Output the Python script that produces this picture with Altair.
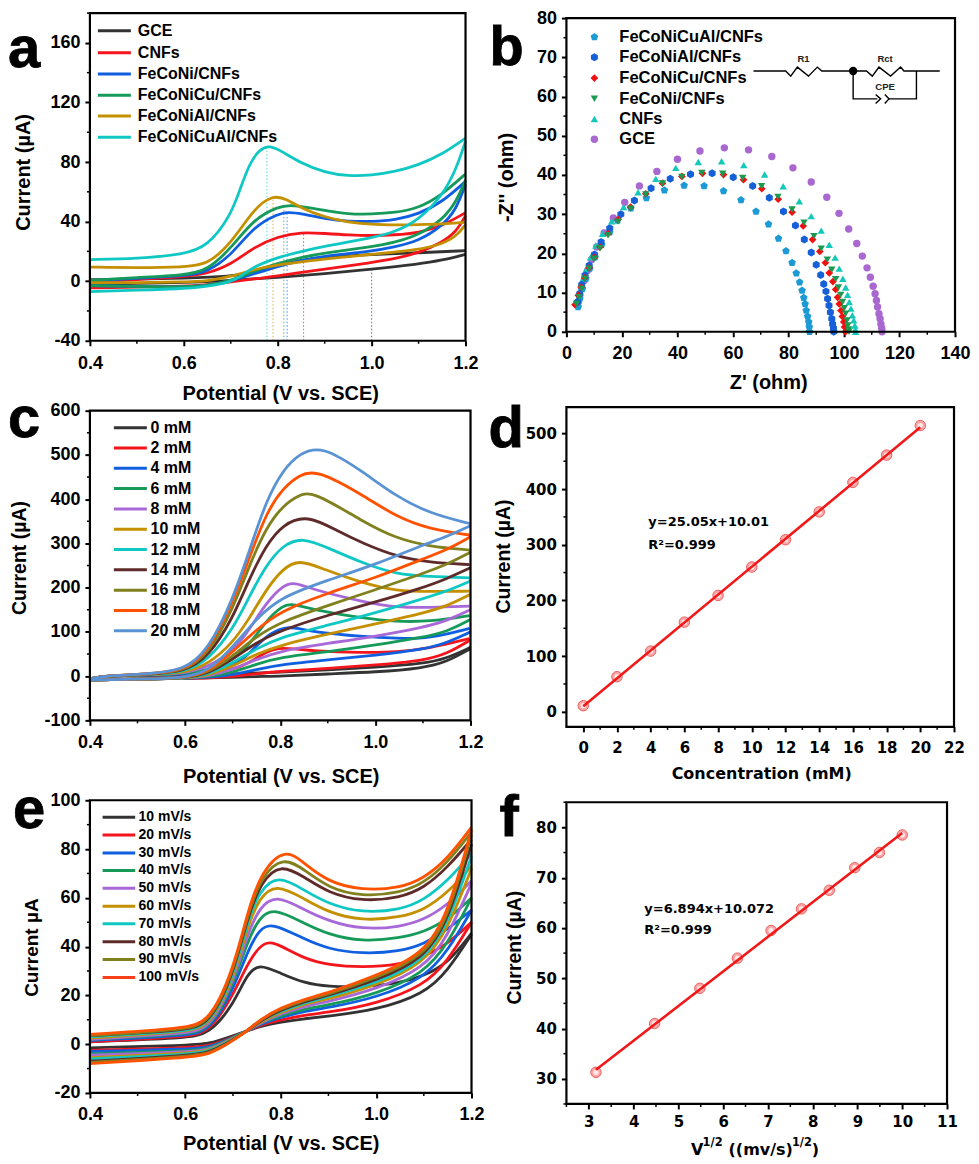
import altair as alt
import pandas as pd

SANS = "Liberation Sans"
WIDE = "DejaVu Sans"
BLACK = "#333333"; RED = "#f4151c"; BLUE = "#0f5fe0"; GREEN = "#159a5a"; PURPLE = "#a968d8"
GOLD = "#c49000"; CYAN = "#0fc8c4"; MAROON = "#5e2a2a"; OLIVE = "#80801e"; ORANGE = "#ff5200"; STEEL = "#5a93d4"

# ---------- panel a ----------
a_names = ["GCE", "CNFs", "FeCoNi/CNFs", "FeCoNiCu/CNFs", "FeCoNiAl/CNFs", "FeCoNiCuAl/CNFs"]
a_colors = [BLACK, RED, BLUE, GREEN, GOLD, CYAN]
a_upper = {
 "GCE": ([.4,.5,.6,.7,.75,.8,.85,.9,1.0,1.1,1.2], [1,1.5,2,3,6,11,14,16,18,19,20.5]),
 "CNFs": ([.4,.5,.6,.65,.7,.75,.8,.85,.9,.95,1.0,1.05,1.1,1.15,1.2], [-.5,1,3,5,11,23,30,33,32,31,30.5,31,32.5,37,46]),
 "FeCoNi/CNFs": ([.4,.5,.6,.65,.7,.75,.8,.82,.85,.9,.95,1.0,1.05,1.1,1.15,1.2], [0,2,3.5,6,17,37,45,46.5,45.5,42,40,40,41,45,53,67]),
 "FeCoNiCu/CNFs": ([.4,.5,.6,.65,.7,.75,.8,.83,.9,.95,1.0,1.05,1.1,1.15,1.2], [.5,2.5,4,7,22,42,50,51.5,47.5,45,45,46,49,58,72]),
 "FeCoNiAl/CNFs": ([.4,.5,.6,.65,.7,.75,.79,.82,.85,.9,.95,1.0,1.1,1.2], [9.5,9,9.5,11,25,49,58,55,49,43,39.5,38,37.5,39.5]),
 "FeCoNiCuAl/CNFs": ([.4,.5,.6,.65,.7,.72,.74,.76,.78,.8,.85,.9,.95,1.0,1.05,1.1,1.15,1.2], [14.5,15,18,23,44,62,79,88,91,89,79,73,70.5,71,73.5,78,85,96]),
}
a_lower = {
 "GCE": ([.4,.5,.6,.7,.8,.9,1.0,1.1,1.15,1.2], [-2,-1.5,-1,.5,2.5,5,8,11.5,14,18]),
 "CNFs": ([.4,.5,.6,.65,.7,.75,.8,.85,.9,1.0,1.05,1.1,1.15,1.18,1.2], [-4.5,-4,-3.5,-2.5,-.5,1.5,3.5,6,8,12.5,15,19,26,33,44]),
 "FeCoNi/CNFs": ([.4,.5,.6,.65,.7,.75,.8,.85,.9,1.0,1.05,1.1,1.15,1.18,1.2], [-3,-3.5,-4,-3,0,5,10,14,17,20,23,27,37,48,65]),
 "FeCoNiCu/CNFs": ([.4,.5,.6,.65,.7,.75,.8,.85,.9,1.0,1.05,1.1,1.15,1.18,1.2], [-3,-3.5,-4,-3,0,7,12,16,19,23,26,31,41,53,68]),
 "FeCoNiAl/CNFs": ([.4,.5,.6,.65,.7,.75,.8,.85,.9,1.0,1.1,1.15,1.18,1.2], [-1,-1,-.5,0,3,8,11,13,15,18,21,25,30,38]),
 "FeCoNiCuAl/CNFs": ([.4,.5,.6,.65,.7,.72,.75,.8,.85,.9,1.0,1.05,1.1,1.15,1.18,1.2], [-7,-6,-5,-3.5,-.5,3,10,16,20,23.5,29,33,41,57,75,94]),
}
a_drop_x = [.777, .79, .813, .82, .855, 1.0]
a_drop_top = [88, 55, 50, 45, 32, 8]
a_drop_color = [CYAN, GOLD, GREEN, BLUE, RED, BLACK]

# ---------- panel b ----------
b_names = ["FeCoNiCuAl/CNFs", "FeCoNiAl/CNFs", "FeCoNiCu/CNFs", "FeCoNi/CNFs", "CNFs", "GCE"]
b_colors = ["#1b9ad6", "#1560d8", "#f01010", "#1a9a50", "#12c8b8", "#a868d0"]
PENTAGON = "M0,-1L0.95,-0.31L0.59,0.81L-0.59,0.81L-0.95,-0.31Z"
HEXAGON = "M0,-1L0.87,-0.5L0.87,0.5L0,1L-0.87,0.5L-0.87,-0.5Z"
b_shapes = [PENTAGON, HEXAGON, "diamond", "triangle-down", "triangle-up", "circle"]
b_sizes = [64, 64, 60, 55, 55, 55]
b_x = {
 "GCE": [4.3,4.8,5.5,6.4,7.6,9.1,10.9,13.6,16.9,21.0,26.3,32.6,40.0,48.1,56.9,65.6,74.0,81.6,88.2,93.8,98.2,101.7,104.6,106.6,108.3,109.5,110.5,111.2,111.7,112.1,112.6,113.0,113.3,113.6,113.7],
 "CNFs": [4.3,4.6,5.2,6,7.2,8.7,10.6,13,16.3,20.6,25.8,32.2,39.4,47.5,55.9,63.9,71.4,78.1,83.9,88.2,91.8,94.7,96.8,98.3,99.6,100.6,101.3,101.9,102.5,103,103.5,103.9,104.1,104.2],
 "FeCoNi/CNFs": [3.6,4.6,5.5,6.7,8.2,10,12.1,15,18.6,23.2,28.6,34.6,41.6,48.8,56.3,63.5,70.3,76.2,81.3,85.6,89.2,91.8,94,95.6,97,98,98.8,99.5,100.1,100.6,101.1,101.4,101.7,101.8],
 "FeCoNiCu/CNFs": [3.1,4.3,5.3,6.6,8.2,10,12.1,15,18.6,23.1,28.6,34.6,41.6,49,56.6,63.8,70.4,76.3,81.3,85.3,88.7,91.3,93.3,94.7,96,97,97.7,98.3,98.9,99.4,99.9,100.2,100.5],
 "FeCoNiAl/CNFs": [4,4.8,5.5,6.7,8.2,10.1,12.5,15.6,19.6,24.5,30.5,37.4,44.7,52.5,60.1,67.1,73.1,78.2,82.5,85.7,88.2,90,91.6,92.7,93.5,94.1,94.6,95.1,95.6,95.9,96.2,96.3],
 "FeCoNiCuAl/CNFs": [4.2,4.8,5.8,7,8.4,10.3,12.7,15.6,18.4,23.2,28.8,35.3,42.4,49.6,56.6,62.9,68.3,72.8,76.4,79.1,81.3,82.8,84,84.9,85.5,86,86.4,86.9,87.3,87.5,87.6],
}
b_y = {
 "GCE": [7.6,9.3,11.1,13.1,15.6,18.4,21.6,25.2,29.0,33.0,37.2,40.9,44.0,46.1,46.9,46.4,44.7,41.8,38.2,34.3,30.2,26.2,22.5,19.3,16.3,13.9,11.6,9.7,8.0,6.3,4.6,3.3,2.0,.9,0],
 "CNFs": [7.1,8.8,11,13.5,16,19,22,25,28.2,31.8,35.6,39.0,41.8,43.3,43.5,42.5,40.1,37.1,33.3,29.5,25.8,22.2,18.9,16.1,13.5,11.3,9.4,7.6,5.9,4.2,2.9,1.6,.6,0],
 "FeCoNi/CNFs": [7.1,8.8,11,13.5,16.1,18.6,21.3,24.6,28.1,31.4,35,37.8,39.5,40.5,40.3,39.2,37.1,34.4,31.2,27.8,24.4,21.2,18.4,15.8,13.4,11.3,9.4,7.6,6,4.6,2.9,1.6,.6,0],
 "FeCoNiCu/CNFs": [6.9,9.3,11.4,13.8,16.3,19,21.6,25,28.6,31.8,35.2,37.9,39.6,40.4,40.1,38.8,36.5,33.8,30.5,27,23.5,20.5,17.6,15,12.8,10.8,8.8,7.1,5.4,3.9,2.5,1.2,0],
 "FeCoNiAl/CNFs": [7.6,9.7,12,14.4,16.9,19.7,22.9,26.4,30,33.5,36.6,39,40.2,40.4,39.4,37.2,34.2,30.7,27.1,23.5,20.2,17.1,14.5,12.2,10.3,8.4,6.7,5,3.3,2,.9,0],
 "FeCoNiCuAl/CNFs": [6.3,8.4,11,13.5,16.1,19,22.2,25.4,28.4,31.5,34.1,36.1,37.3,37.2,35.9,33.6,30.7,27.4,23.8,20.6,17.6,14.9,12.6,10.5,8.7,7.1,5.4,3.9,2.5,1.2,0],
}
b_draw_order = ["GCE", "CNFs", "FeCoNiCuAl/CNFs", "FeCoNiAl/CNFs", "FeCoNiCu/CNFs", "FeCoNi/CNFs"]
circuit_paths = [
 ([67.4,79.0,80.8,83.2,87.2,90.4,92.0,108.1,110.2,112.6,116.8,120.4,121.6,134.5],
  [66.5,66.5,65.2,67.5,65.2,67.5,66.5,66.5,65.2,67.5,65.2,67.5,66.5,66.5]),
 ([103.3,103.3,112.0], [66.5,59.4,59.4]),
 ([111.4,113.2,111.4], [60.5,59.4,58.2]),
 ([114.7,116.2,114.7], [60.5,59.4,58.2]),
 ([116.2,126.1,126.1], [59.4,59.4,66.5]),
]
circuit_labels = ["R1", "Rct", "CPE"]
circuit_label_x = [85.4, 114.8, 114.8]
circuit_label_y = [69.5, 69.5, 62.4]

# ---------- panel c ----------
c_names = ["0 mM","2 mM","4 mM","6 mM","8 mM","10 mM","12 mM","14 mM","16 mM","18 mM","20 mM"]
c_colors = [BLACK, RED, BLUE, GREEN, PURPLE, GOLD, CYAN, MAROON, OLIVE, ORANGE, STEEL]
c_lower_x = [.4,.5,.6,.65,.7,.75,.8,.9,1.0,1.1,1.15,1.2]
c_lower = {
 "0 mM": [-8,-7,-5,-4,-3,-1,0,5,9,18,32,62],
 "2 mM": [-9,-7,-5,-4,-1,5,11,17,25,35,50,82],
 "4 mM": [-9,-7,-5,-3,3,15,26,37,47,60,75,100],
 "6 mM": [-9,-7,-5,-2,8,27,43,55,70,88,100,128],
 "8 mM": [-9,-7,-5,0,15,38,57,74,90,110,125,150],
 "10 mM": [-9,-7,-5,2,22,50,70,95,118,142,158,185],
 "12 mM": [-9,-7,-5,4,30,62,88,115,143,175,192,215],
 "14 mM": [-9,-7,-5,6,38,76,103,138,167,200,220,245],
 "16 mM": [-9,-7,-5,8,45,90,122,160,195,232,252,280],
 "18 mM": [-9,-7,-5,10,55,105,147,188,222,265,285,315],
 "20 mM": [-9,-7,-5,12,65,130,178,217,252,297,315,340],
}
c_upper_x = {
 "0 mM": [.4,.43,.5,.6,.7,.8,.9,1.0,1.1,1.15,1.2],
 "2 mM": [.4,.43,.5,.6,.65,.7,.735,.77,.795,.83,.868,.974,1.044,1.114,1.198],
 "4 mM": [.4,.43,.5,.6,.65,.7,.735,.77,.81,.84,.868,.974,1.044,1.114,1.198],
 "6 mM": [.4,.43,.5,.6,.65,.7,.735,.77,.805,.825,.868,.974,1.044,1.114,1.198],
 "8 mM": [.4,.43,.5,.6,.65,.7,.735,.77,.805,.83,.87,.974,1.044,1.114,1.198],
 "10 mM": [.4,.43,.5,.6,.65,.7,.735,.77,.805,.84,.89,.974,1.044,1.114,1.198],
 "12 mM": [.4,.43,.5,.6,.65,.7,.735,.77,.805,.847,.9,.974,1.044,1.114,1.198],
 "14 mM": [.4,.43,.5,.6,.65,.7,.735,.77,.805,.857,.92,.974,1.044,1.114,1.198],
 "16 mM": [.4,.43,.5,.6,.65,.7,.735,.77,.805,.84,.869,.974,1.044,1.114,1.198],
 "18 mM": [.4,.43,.5,.6,.65,.7,.736,.771,.806,.84,.877,.974,1.044,1.114,1.198],
 "20 mM": [.4,.43,.5,.6,.65,.7,.736,.771,.806,.84,.887,.974,1.044,1.114,1.198],
}
c_upper_y = {
 "0 mM": [-6,0,1,2,5,9,14,20,28,40,65],
 "2 mM": [-6,0,2,4,8,14,30,55,64,62,57,53,54,63,85],
 "4 mM": [-6,0,2,4,10,22,50,92,112,108,100,89,85,85,108],
 "6 mM": [-6,0,2,5,15,35,70,125,160,164,150,131,123,123,137],
 "8 mM": [-6,0,3,5,22,55,105,165,205,213,195,168,155,155,158],
 "10 mM": [-6,0,3,6,28,75,130,195,243,264,242,210,192,191,192],
 "12 mM": [-6,0,3,7,38,105,180,250,296,314,290,255,230,225,222],
 "14 mM": [-6,0,3,8,45,130,220,295,343,365,328,300,270,257,252],
 "16 mM": [-6,0,4,9,52,150,250,335,385,410,418,349,311,293,285],
 "18 mM": [-6,0,4,10,58,165,270,370,425,455,467,409,360,332,319],
 "20 mM": [-6,0,4,11,62,172,286,398,466,503,522,462,406,368,345],
}

# ---------- panel d ----------
d_x = [0,2,4,6,8,10,12,14,16,18,20]
d_y = [11,63,109,161,209,260,309,359,412,461,514]
d_fit_x = [0,20]
d_fit_y = [10.01,511.0]

# ---------- panel e ----------
e_names = ["10 mV/s","20 mV/s","30 mV/s","40 mV/s","50 mV/s","60 mV/s","70 mV/s","80 mV/s","90 mV/s","100 mV/s"]
e_colors = [BLACK, RED, BLUE, GREEN, PURPLE, GOLD, CYAN, MAROON, OLIVE, ORANGE]
e_legend_colors = [BLACK, RED, BLUE, GREEN, PURPLE, GOLD, CYAN, MAROON, OLIVE, "#f8401a"]
e_lower_x = [.4,.6,.65,.7,.73,.76,.8,.85,.9,1.0,1.1,1.15,1.2]
e_lower = {
 "10 mV/s": [-1.5,-.5,0,3.5,5.5,7.5,9,10.5,11.5,14,20.5,30,45],
 "20 mV/s": [-2.5,-1.5,-1,3,5.5,8,10,12,13,16.5,24,34,50],
 "30 mV/s": [-3,-2,-1.5,2.8,5.5,8.5,11,13.5,15,19,27,38,55],
 "40 mV/s": [-4,-2.8,-2,2.6,5.5,9,11.5,14.5,16,20.5,29,41,60],
 "50 mV/s": [-4.5,-3.2,-2.5,2.4,5.5,9,12.5,15.5,17.5,22.5,31,44,66],
 "60 mV/s": [-5.5,-3.7,-3,2.2,5.5,9.5,13,16.5,18.5,24,33,47,72],
 "70 mV/s": [-6,-4.2,-3.3,2,5.5,10,13.5,17,19.5,25,34,49,77],
 "80 mV/s": [-7,-4.7,-3.7,1.8,5.5,10,14,17.5,20,26,35,50,82],
 "90 mV/s": [-7.5,-5,-4.2,1.7,5.5,10.5,14.5,18,20.5,27,36,51,86],
 "100 mV/s": [-8,-5.5,-4.5,1.5,5.5,10.5,15,18.5,21,28,37,53,88],
}
e_upper_x = {
 "10 mV/s": [.4,.6,.65,.7,.73,.755,.8,.85,.9,.97,1.05,1.1,1.15,1.2],
 "20 mV/s": [.4,.6,.65,.7,.73,.765,.8,.85,.9,.97,1.05,1.1,1.15,1.2],
 "30 mV/s": [.4,.6,.65,.7,.73,.755,.78,.85,.9,.97,1.05,1.1,1.15,1.2],
 "40 mV/s": [.4,.6,.65,.7,.73,.755,.785,.85,.9,.97,1.05,1.1,1.15,1.2],
 "50 mV/s": [.4,.6,.65,.7,.73,.755,.79,.85,.9,.97,1.05,1.1,1.15,1.2],
 "60 mV/s": [.4,.6,.65,.7,.73,.755,.79,.85,.9,.97,1.05,1.1,1.15,1.2],
 "70 mV/s": [.4,.6,.65,.7,.73,.755,.795,.85,.9,.97,1.05,1.1,1.15,1.2],
 "80 mV/s": [.4,.6,.65,.7,.73,.76,.8,.85,.9,.97,1.05,1.1,1.15,1.2],
 "90 mV/s": [.4,.6,.65,.7,.73,.76,.805,.85,.9,.97,1.05,1.1,1.15,1.2],
 "100 mV/s": [.4,.6,.65,.7,.73,.76,.81,.85,.9,.97,1.05,1.1,1.15,1.2],
}
e_upper_y = {
 "10 mV/s": [1,2.5,4,16,29,33,29,25,23.6,23.5,25,28,33,45.5],
 "20 mV/s": [1,3,4.5,20,33,43,40.5,35,32.5,31.5,32.5,36,41,50],
 "30 mV/s": [1.5,3.5,5,22,38,47,50,43,39,37,38,41,47,55],
 "40 mV/s": [2,4,5.5,24,42,52,56,49.5,45,42,43.5,46,51,60],
 "50 mV/s": [2,4.5,6,25,45,56,61.5,55,50.5,47,48,51,57,67],
 "60 mV/s": [2.5,5,7,26,48,60,66,59.5,54,50.5,52,55,62,73],
 "70 mV/s": [3,5.2,7.5,27,50,63,69.5,63,57.5,53.8,55,59,67,78],
 "80 mV/s": [3.5,5.7,8,28,52,67,74,68.5,62,58.5,60,64,72.5,84],
 "90 mV/s": [3.5,6,8.5,29,53,69,77,71.5,64,60.5,62,66,74.5,87],
 "100 mV/s": [4,6.5,9,30,54,71,80.5,74,66.5,63,64,68,76,89],
}

# ---------- panel f ----------
f_x = [3.16,4.47,5.48,6.32,7.07,7.75,8.37,8.94,9.49,10]
f_y = [31.3,41,48,54,59.5,63.8,67.5,72,75,78.5]
f_fit_x = [3.16,10]
f_fit_y = [31.8,78.9]

ONE = pd.DataFrame({"a": [1]})


class Panel:
    def __init__(self, w, h, xdom, ydom, xticks, yticks, xminor, yminor, xtitle, ytitle,
                 xfmt, title_xy, ytitle_xy, xpad, label_font=SANS, label_size=18,
                 xt_font=SANS, xt_size=20, yt_font=SANS, yt_size=20, inset=0):
        self.w, self.h, self.inset = w, h, inset
        self.xs = alt.Scale(domain=xdom, nice=False, zero=False)
        self.ys = alt.Scale(domain=ydom, nice=False, zero=False, range=[h + inset, inset])
        common = dict(domain=False, grid=False, ticks=True, tickSize=5, tickWidth=2, tickColor="black",
                      labelColor="black", labelFont=label_font, labelFontSize=label_size,
                      labelFontWeight="bold", labelFlush=False, labelOverlap=False,
                      titleColor="black", titleBaseline="middle", titleAlign="center")
        self.xaxis = alt.Axis(values=xticks, format=xfmt, labelPadding=xpad, labelAngle=0,
                              title=xtitle if xtitle else " ",
                              titleFont=xt_font, titleFontSize=xt_size, titleFontWeight="bold",
                              titleX=title_xy[0], titleY=title_xy[1], **common)
        self.yaxis = alt.Axis(values=yticks, labelExpr="'' + datum.value", labelPadding=5,
                              title=ytitle, titleFont=yt_font, titleFontSize=yt_size, titleFontWeight="bold",
                              titleX=ytitle_xy[0], titleY=ytitle_xy[1] + inset, titleAngle=270, **common)
        self.layers = []
        self.layers.append(
            alt.Chart(pd.DataFrame({"x": xminor})).mark_rule(color="black", strokeWidth=1.5).encode(
                x=self.X(), y=alt.value(h + inset), y2=alt.value(h + inset + 3)))
        self.layers.append(
            alt.Chart(pd.DataFrame({"y": yminor})).mark_rule(color="black", strokeWidth=1.5).encode(
                y=self.Y(), x=alt.value(-3), x2=alt.value(0)))

    def X(self, f="x"):
        return alt.X(f + ":Q", scale=self.xs, axis=self.xaxis)

    def Y(self, f="y"):
        return alt.Y(f + ":Q", scale=self.ys, axis=self.yaxis)

    def add(self, layer):
        self.layers.append(layer)

    def curves(self, names, colors, branches, sw=2.8):
        rows = []
        for name, col in zip(names, colors):
            for b, (xs, ys) in enumerate(branches(name)):
                for x, y in zip(xs, ys):
                    rows.append({"c": col, "s": name, "b": b, "x": x, "y": y})
        self.add(alt.Chart(pd.DataFrame(rows)).mark_line(interpolate="basis", strokeWidth=sw).encode(
            x=self.X(), y=self.Y(),
            color=alt.Color("c:N", scale=None),
            detail=["s:N", "b:N"]))

    def text(self, s, x, y, size, font=SANS, weight="bold", color="black", align="left", baseline="middle", **kw):
        self.add(alt.Chart(ONE).mark_text(text=s, font=font, fontSize=size, fontWeight=weight, color=color,
                                          align=align, baseline=baseline, **kw).encode(
            x=alt.value(x), y=alt.value(y + self.inset)))

    def legend_line(self, names, colors, x0, x1, tx, ys, size):
        for n, c, y in zip(names, colors, ys):
            self.add(alt.Chart(ONE).mark_rule(color=c, strokeWidth=3).encode(
                x=alt.value(x0), x2=alt.value(x1), y=alt.value(y + self.inset)))
            self.text(n, tx, y, size)

    def letter(self, s, x, y, size=58):
        self.text(s, x, y, size, baseline="alphabetic", stroke="black", strokeWidth=0.8)

    def scatter_fit(self, xs, ys, fx, fy):
        df = pd.DataFrame({"x": xs, "y": ys})
        self.add(alt.Chart(df).mark_point(shape="circle", filled=True, size=110, color="#ff9c9c",
                                          stroke="#e85050", strokeWidth=1, opacity=0.9).encode(
            x=self.X(), y=self.Y()))
        self.add(alt.Chart(df).mark_point(shape="circle", filled=True, size=28, color="#ffffff", opacity=0.75).encode(
            x=self.X(), y=self.Y()))
        self.add(alt.Chart(pd.DataFrame({"x": fx, "y": fy})).mark_line(color="#f01818", strokeWidth=2.6).encode(
            x=self.X(), y=self.Y()))

    def chart(self):
        frame = alt.Chart(ONE).mark_rect(fill="transparent", stroke="black", strokeWidth=2.2).encode(
            x=alt.value(0), x2=alt.value(self.w), y=alt.value(self.inset), y2=alt.value(self.h + self.inset))
        return alt.layer(*self.layers, frame).properties(width=self.w, height=self.h + self.inset)


# ===== a =====
pa = Panel(376, 328, [.4, 1.2], [-40, 180], [.4, .6, .8, 1.0, 1.2], [-40, 0, 40, 80, 120, 160],
           [.5, .7, .9, 1.1], [-20, 20, 60, 100, 140, 180], "Potential (V vs. SCE)", "Current (µA)",
           ".1f", (190.5, 53), (-66, 159), 9)
drop = pd.DataFrame({"x": a_drop_x, "y": [-40] * 6, "y2": a_drop_top, "c": a_drop_color})
pa.add(alt.Chart(drop).mark_rule(strokeWidth=1.1, strokeDash=[1.5, 2], opacity=0.65).encode(
    x=pa.X(), y=pa.Y(), y2="y2:Q", color=alt.Color("c:N", scale=None)))
pa.curves(a_names, a_colors, lambda n: [a_lower[n], a_upper[n]])
pa.legend_line(a_names, a_colors, 8, 41, 48, [17.7, 39.7, 61, 82.3, 103, 124.3], 16)
pa.letter("a", -82, 54)

# ===== b =====
pb = Panel(389, 314, [0, 140], [0, 80], list(range(0, 141, 20)), list(range(0, 81, 10)),
           list(range(10, 140, 20)), list(range(5, 80, 10)), "Z' (ohm)", "-Z'' (ohm)",
           "d", (202, 51), (-60, 159), 8, inset=5)
for n in b_draw_order:
    i = b_names.index(n)
    df = pd.DataFrame({"x": b_x[n], "y": b_y[n]})
    pb.add(alt.Chart(df).mark_point(shape=b_shapes[i], filled=True, size=b_sizes[i], color=b_colors[i], opacity=1).encode(
        x=pb.X(), y=pb.Y()))
for n, c, s, z, y in zip(b_names, b_colors, b_shapes, b_sizes, [19, 39.3, 60, 80.7, 101, 121.3]):
    pb.add(alt.Chart(ONE).mark_point(shape=s, filled=True, size=z, color=c, opacity=1).encode(
        x=alt.value(28), y=alt.value(y + pb.inset)))
    pb.text(n, 53, y, 16.5)
for k, (xs, ys) in enumerate(circuit_paths):
    df = pd.DataFrame({"x": xs, "y": ys, "o": list(range(len(xs)))})
    pb.add(alt.Chart(df).mark_line(color="black", strokeWidth=1.4).encode(
        x=pb.X(), y=pb.Y(), order="o:Q"))
pb.add(alt.Chart(pd.DataFrame({"x": [103.3], "y": [66.5]})).mark_point(
    shape="circle", filled=True, size=70, color="black", opacity=1).encode(x=pb.X(), y=pb.Y()))
pb.add(alt.Chart(pd.DataFrame({"x": circuit_label_x, "y": circuit_label_y, "t": circuit_labels})).mark_text(
    font=SANS, fontSize=9.5, fontWeight="bold", color="#222222").encode(x=pb.X(), y=pb.Y(), text="t:N"))
pb.letter("b", -77, 47, 56)

# ===== c =====
pc = Panel(381, 310, [.4, 1.2], [-100, 600], [.4, .6, .8, 1.0, 1.2], list(range(-100, 601, 100)),
           [.5, .7, .9, 1.1], list(range(-50, 600, 100)), "Potential (V vs. SCE)", "Current (µA)",
           ".1f", (191, 56), (-70, 147), 8, yt_size=19.5)
pc.curves(c_names, c_colors, lambda n: [(c_lower_x, c_lower[n]), (c_upper_x[n], c_upper_y[n])])
pc.legend_line(c_names, c_colors, 24, 57, 60.7, [17, 37.3, 57.7, 78, 98.3, 118.7, 139, 159.3, 179.7, 200, 220.3], 16)
pc.letter("c", -82, 26)

# ===== d =====
pd_ = Panel(388, 320, [-1, 22], [-27, 547], list(range(0, 23, 2)), list(range(0, 501, 100)),
            list(range(1, 22, 2)), list(range(50, 501, 100)), "Concentration (mM)", "Current (µA)",
            "d", (195, 46.5), (-63, 149), 8.5, label_font=WIDE, label_size=15,
            xt_font=WIDE, xt_size=16, yt_size=19.5)
pd_.scatter_fit(d_x, d_y, d_fit_x, d_fit_y)
pd_.text("y=25.05x+10.01", 82, 115, 13, font=WIDE)
pd_.text("R²=0.999", 82, 138, 13, font=WIDE)
pd_.letter("d", -78, 40)

# ===== e =====
pe = Panel(382, 293, [.4, 1.2], [-20, 100], [.4, .6, .8, 1.0, 1.2], list(range(-20, 101, 20)),
           [.5, .7, .9, 1.1], list(range(-10, 100, 20)), "Potential (V vs. SCE)", "Current µA",
           ".1f", (191, 50.7), (-58, 147), 7.5, yt_size=19)
pe.curves(e_names, e_colors, lambda n: [(e_lower_x, e_lower[n]), (e_upper_x[n], e_upper_y[n])])
pe.legend_line(e_names, e_legend_colors, 12.7, 45.3, 48.7,
               [17, 34.7, 52.7, 70.3, 88, 106, 123.7, 141.7, 159.3, 177.3], 14)
pe.letter("e", -77, 28)

# ===== f =====
pf = Panel(381, 302, [2.5, 11], [25, 85], list(range(3, 12)), list(range(30, 81, 10)),
           [2.5, 3.5, 4.5, 5.5, 6.5, 7.5, 8.5, 9.5, 10.5], list(range(25, 86, 10)), "", "Current (µA)",
           "d", (190, 30), (-52, 145), 6, label_font=WIDE, label_size=15,
           xt_font=WIDE, xt_size=16, yt_size=19.5)
pf.scatter_fit(f_x, f_y, f_fit_x, f_fit_y)
pf.text("y=6.894x+10.072", 78, 106.5, 13, font=WIDE)
pf.text("R²=0.999", 78, 127.5, 13, font=WIDE)
pf.text("V", 124.7, 353, 16, font=WIDE, baseline="alphabetic")
pf.text("1/2", 136.3, 344, 11.4, font=WIDE, baseline="alphabetic")
pf.text("((mv/s)", 162.3, 353, 16, font=WIDE, baseline="alphabetic")
pf.text("1/2", 225.7, 344, 11.4, font=WIDE, baseline="alphabetic")
pf.text(")", 245.7, 353, 16, font=WIDE, baseline="alphabetic")
pf.letter("f", -67, 34)

left_low = alt.vconcat(pc.chart(), pe.chart(), spacing=80, bounds="flush")
left = alt.vconcat(pa.chart(), left_low, spacing=-13)
right = alt.vconcat(pb.chart(), pd_.chart(), pf.chart(), spacing=75.5, bounds="flush")
chart = alt.hconcat(left, right, spacing=4).properties(
    padding={"left": 0, "top": 0.5, "right": 0, "bottom": 0}, background="white").configure_view(stroke=None)
chart.save("out.html", embed_options={"renderer": "svg", "actions": False})
